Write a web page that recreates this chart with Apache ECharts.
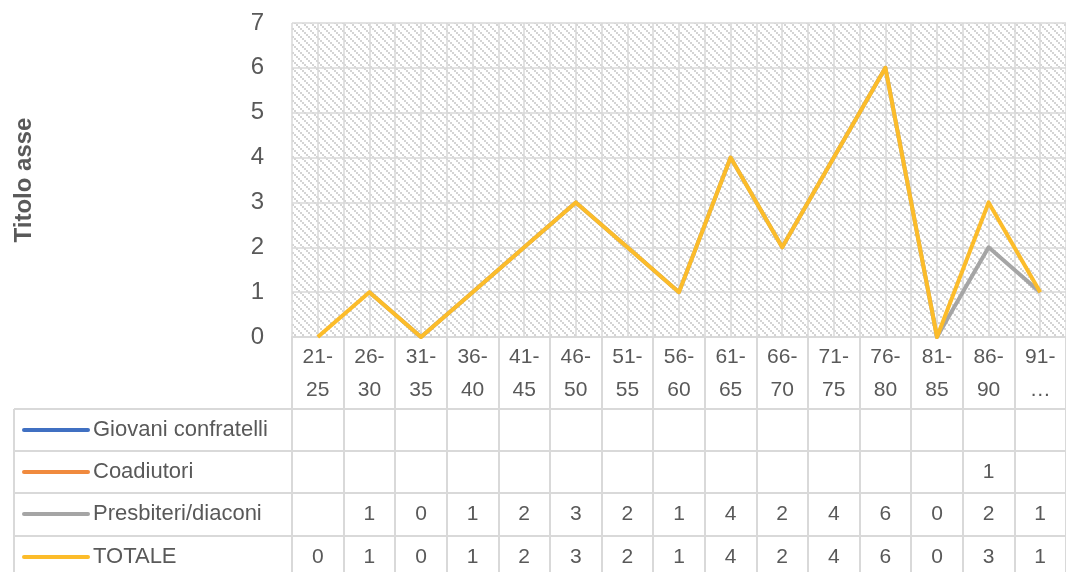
<!DOCTYPE html>
<html>
<head>
<meta charset="utf-8">
<script src="https://cdn.jsdelivr.net/npm/echarts@6/dist/echarts.min.js"></script>
<style>
  html, body { margin: 0; padding: 0; background: #fff; }
  #chart { width: 1066px; height: 572px; }
</style>
</head>
<body>
<div id="chart"></div>
<script>
const categories = ['21-25', '26-30', '31-35', '36-40', '41-45', '46-50', '51-55', '56-60', '61-65', '66-70', '71-75', '76-80', '81-85', '86-90', '91-…']
const giovani = [null, null, null, null, null, null, null, null, null, null, null, null, null, null, null]
const coadiutori = [null, null, null, null, null, null, null, null, null, null, null, null, null, 1, null]
const presbiteri = [null, 1, 0, 1, 2, 3, 2, 1, 4, 2, 4, 6, 0, 2, 1]
const totale = [0, 1, 0, 1, 2, 3, 2, 1, 4, 2, 4, 6, 0, 3, 1]
const seriesNames = ['Giovani confratelli', 'Coadiutori', 'Presbiteri/diaconi', 'TOTALE']
const seriesColors = ['#4070C2', '#F08A3E', '#A5A5A5', '#FCBC2A']
const yMin = 0
const yMax = 7
const yStep = 1

const FONT = 'Liberation Sans'
const TXT = '#595959'
const GRID_C = '#d9d9d9'

// hatch pattern for plot area
function makeHatch() {
  const c = document.createElement('canvas')
  c.width = 8
  c.height = 8
  const ctx = c.getContext('2d')
  ctx.fillStyle = '#ffffff'
  ctx.fillRect(0, 0, 8, 8)
  ctx.fillStyle = '#d4d4d4'
  for (let i = 0; i < 8; i += 2) {
    ctx.fillRect(i, i, 2, 2)
  }
  return c
}

const chart = echarts.init(document.getElementById('chart'))
const allData = [giovani, coadiutori, presbiteri, totale]

const option = {
  animation: false,
  grid: {
    left: 292,
    right: -9,
    top: 23,
    bottom: 235,
    show: true,
    borderWidth: 0,
    backgroundColor: { image: makeHatch(), repeat: 'repeat' }
  },
  xAxis: [
    {
      type: 'category',
      data: categories,
      boundaryGap: true,
      axisLine: { show: true, lineStyle: { color: GRID_C, width: 2 } },
      axisTick: { show: true, length: 240, lineStyle: { color: GRID_C, width: 2 } },
      splitLine: { show: false },
      axisLabel: {
        color: TXT,
        fontFamily: FONT,
        fontSize: 21,
        lineHeight: 33,
        margin: 4,
        interval: 0,
        formatter: v => v.replace('-', '-\n')
      }
    },
    {
      type: 'value',
      min: 0,
      max: categories.length,
      interval: 0.5,
      show: true,
      position: 'top',
      axisLine: { show: false },
      axisTick: { show: false },
      axisLabel: { show: false },
      splitLine: { show: true, lineStyle: { color: GRID_C, width: 1.5 } }
    }
  ],
  yAxis: {
    type: 'value',
    min: yMin,
    max: yMax,
    interval: yStep,
    name: 'Titolo asse',
    nameLocation: 'middle',
    nameGap: 256,
    nameTextStyle: { color: TXT, fontFamily: FONT, fontSize: 24, fontWeight: 'bold' },
    axisLine: { show: false },
    axisTick: { show: false },
    axisLabel: { color: TXT, fontFamily: FONT, fontSize: 24, margin: 28 },
    splitLine: { show: true, lineStyle: { color: GRID_C, width: 1.5 } }
  },
  series: seriesNames.map((name, i) => ({
    name: name,
    type: 'line',
    xAxisIndex: 0,
    data: allData[i],
    showSymbol: false,
    symbol: 'none',
    connectNulls: false,
    lineStyle: { color: seriesColors[i], width: 4, join: 'round' },
    itemStyle: { color: seriesColors[i] },
    z: 2 + i
  }))
}
chart.setOption(option)

// data table under the axis
const tableLeft = 14
const tableRight = 1066
const rowTops = [409, 451, 493, 536]
const rowH = 42
const graphic = []
rowTops.forEach(t => {
  graphic.push({
    type: 'line',
    shape: { x1: tableLeft, y1: t, x2: tableRight, y2: t },
    style: { stroke: GRID_C, lineWidth: 2 }
  })
})
graphic.push({
  type: 'line',
  shape: { x1: tableLeft, y1: rowTops[0], x2: tableLeft, y2: 572 },
  style: { stroke: GRID_C, lineWidth: 2 }
})
seriesNames.forEach((name, r) => {
  const cy = rowTops[r] + rowH / 2
  graphic.push({
    type: 'line',
    shape: { x1: 24, y1: cy, x2: 88, y2: cy },
    style: { stroke: seriesColors[r], lineWidth: 4, lineCap: 'round' }
  })
  graphic.push({
    type: 'text',
    x: 93,
    y: cy,
    style: { text: name, fill: TXT, font: '22px ' + FONT, textVerticalAlign: 'middle', textAlign: 'left' }
  })
  allData[r].forEach((v, c) => {
    if (v === null) return
    const x = chart.convertToPixel({ xAxisIndex: 0 }, c)
    graphic.push({
      type: 'text',
      x: x,
      y: cy,
      style: { text: String(v), fill: TXT, font: '21px ' + FONT, textAlign: 'center', textVerticalAlign: 'middle' }
    })
  })
})
chart.setOption({ graphic: graphic })
</script>
</body>
</html>
